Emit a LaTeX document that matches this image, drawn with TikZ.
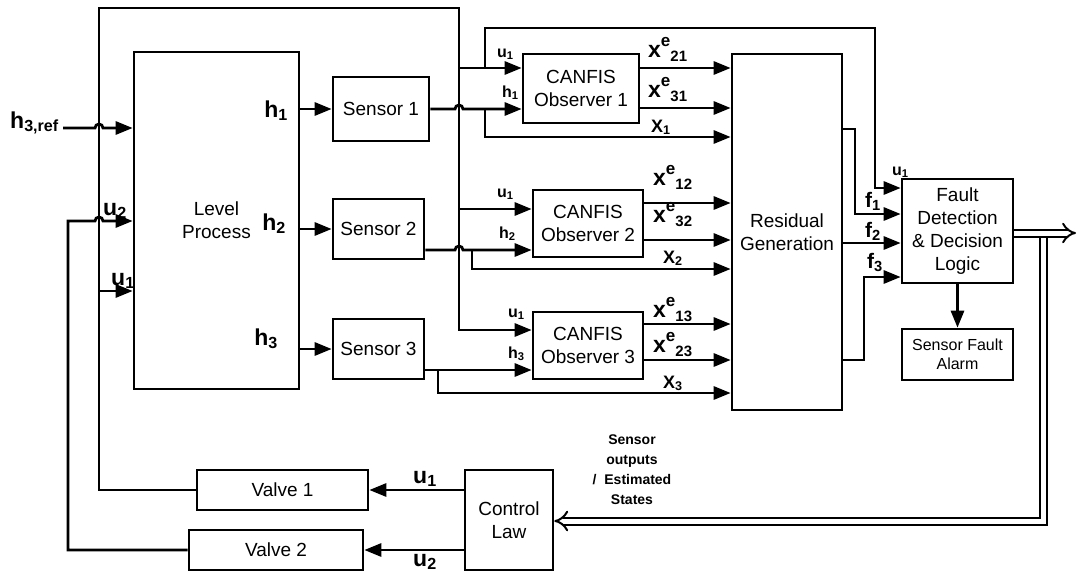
\documentclass[tikz,border=0pt]{standalone}
\usepackage{fontspec}
\setmainfont{Liberation Sans}
\usetikzlibrary{arrows.meta}
\newcommand{\boxtext}{\fontsize{19}{23}\selectfont}
\newcommand{\biglbl}{\fontsize{23}{26}\selectfont\bfseries}
\newcommand{\smalllbl}{\fontsize{16}{18}\selectfont\bfseries}
\newcommand{\xest}[1]{x\raisebox{11pt}{\fontsize{17}{17}\selectfont e}\raisebox{-4pt}{\fontsize{15}{15}\selectfont #1}}

\begin{document}
\begin{tikzpicture}[
    x=1pt, y=-1pt,
    every node/.style={inner sep=0pt},
    block/.style={
        rectangle,
        draw=black,
        line width=2.6pt,
        align=center,
        font=\boxtext
    },
    lbl/.style={font=\biglbl},
    inlbl/.style={font=\smalllbl},
    xlbl/.style={font=\fontsize{18}{20}\selectfont\bfseries},
    flbl/.style={font=\fontsize{21}{23}\selectfont\bfseries},
    arrow/.style={-{Triangle[length=17pt,width=13pt]}, line width=2.8pt},
    dbl/.style={double, double distance=5pt, line width=2pt, -{Implies}}
]
\useasboundingbox (0,0) rectangle (1077,573);

\node[block, minimum width=165pt, minimum height=337pt] (lp) at (216.5,220.5) {Level\\Process};
\node[block, minimum width=96pt, minimum height=64pt] (s1) at (381,109) {Sensor 1};
\node[block, minimum width=91pt, minimum height=60pt] (s2) at (378.5,229) {Sensor 2};
\node[block, minimum width=91pt, minimum height=60pt] (s3) at (378.5,349) {Sensor 3};
\node[block, minimum width=116pt, minimum height=69pt] (o1) at (581,88.5) {CANFIS\\Observer 1};
\node[block, minimum width=110pt, minimum height=67pt] (o2) at (588,223.5) {CANFIS\\Observer 2};
\node[block, minimum width=110pt, minimum height=67pt] (o3) at (588,345.5) {CANFIS\\Observer 3};
\node[block, minimum width=110pt, minimum height=356pt] (rg) at (787,232) {Residual\\Generation};
\node[block, minimum width=111pt, minimum height=104pt] (fd) at (957.5,231) {Fault\\Detection\\\& Decision\\Logic};
\node[block, minimum width=111pt, minimum height=51pt, font=\fontsize{16}{19}\selectfont] (sfa) at (957.5,354.5) {Sensor Fault\\Alarm};
\node[block, minimum width=88pt, minimum height=100pt] (cl) at (509,520) {Control\\Law};
\node[block, minimum width=171pt, minimum height=40pt] (v1) at (282.5,490) {Valve 1};
\node[block, minimum width=174pt, minimum height=40pt] (v2) at (276,550) {Valve 2};

\node[lbl, anchor=base east] (lhref) at (59,128) {h\textsubscript{3,ref}};
\node[lbl, anchor=base west] (lu2) at (103,215) {u\textsubscript{2}};
\node[lbl, anchor=base west] (lu1) at (111,285) {u\textsubscript{1}};
\node[lbl, anchor=base east] (lh1) at (288,117) {h\textsubscript{1}};
\node[lbl, anchor=base east] (lh2) at (286,230) {h\textsubscript{2}};
\node[lbl, anchor=base east] (lh3) at (278,345) {h\textsubscript{3}};
\node[inlbl, anchor=base west] (lo1u) at (497,57) {u\textsubscript{1}};
\node[inlbl, anchor=base west] (lo1h) at (502,97) {h\textsubscript{1}};
\node[inlbl, anchor=base west] (lo2u) at (497,197) {u\textsubscript{1}};
\node[inlbl, anchor=base west] (lo2h) at (499,238) {h\textsubscript{2}};
\node[inlbl, anchor=base west] (lo3u) at (508,317) {u\textsubscript{1}};
\node[inlbl, anchor=base west] (lo3h) at (508,358) {h\textsubscript{3}};
\node[lbl, anchor=base west] (lx21) at (648,57) {\xest{21}};
\node[lbl, anchor=base west] (lx31) at (648,97) {\xest{31}};
\node[xlbl, anchor=base west] (lx1) at (651,132) {X\textsubscript{1}};
\node[lbl, anchor=base west] (lx12) at (653,185) {\xest{12}};
\node[lbl, anchor=base west] (lx32) at (653,222) {\xest{32}};
\node[xlbl, anchor=base west] (lx2) at (663,263) {X\textsubscript{2}};
\node[lbl, anchor=base west] (lx13) at (653,317) {\xest{13}};
\node[lbl, anchor=base west] (lx23) at (653,352) {\xest{23}};
\node[xlbl, anchor=base west] (lx3) at (663,388) {X\textsubscript{3}};
\node[flbl, anchor=base west] (lf1) at (865,207) {f\textsubscript{1}};
\node[flbl, anchor=base west] (lf2) at (865,237) {f\textsubscript{2}};
\node[flbl, anchor=base west] (lf3) at (867,268) {f\textsubscript{3}};
\node[inlbl, anchor=base west] (lfdu) at (892,175) {u\textsubscript{1}};
\node[lbl, anchor=base west] (lcu1) at (413,483) {u\textsubscript{1}};
\node[lbl, anchor=base west] (lcu2) at (413,566) {u\textsubscript{2}};
\node[font=\fontsize{14}{20}\selectfont\bfseries, align=center] (sest) at (632,470) {Sensor\\outputs\\/\ \ Estimated\\States};

\coordinate (ftop) at (99,8);
\coordinate (btop) at (459,8);
\coordinate (ju1) at (99,291);
\coordinate (jo1) at (459,68);
\coordinate (jo2) at (459,209);
\coordinate (jfd) at (485,68);
\coordinate (jx1) at (485,109);
\coordinate (jx2) at (472,250);
\coordinate (jx3) at (438,370);
\coordinate (jd) at (1043,233);

\draw[arrow] (v1.west) -| (ftop) -- (btop) |- (o3.west |- 0,330);
\draw[arrow] (ju1) -- (lp.west |- ju1);
\draw[arrow] (jo1) -- (o1.west |- jo1);
\draw[arrow] (jo2) -- (o2.west |- jo2);
\draw[arrow] (jfd) |- (875,28) |- (fd.west |- 0,188);
\draw[arrow] (v2.west) -| (68,221) -- (95,221) arc[start angle=180, end angle=0, radius=4pt] -- (lp.west |- 0,221);
\draw[arrow] ([xshift=4pt]lhref.base east) -- (95,128) arc[start angle=180, end angle=0, radius=4pt] -- (lp.west |- 0,128);

\draw[arrow] (lp.east |- s1.west) -- (s1.west);
\draw[arrow] (lp.east |- s2.west) -- (s2.west);
\draw[arrow] (lp.east |- s3.west) -- (s3.west);

\draw[arrow] (s1.east) -- (455,109) arc[start angle=180, end angle=0, radius=4pt] -- (o1.west |- s1.east);
\draw[arrow] (jx1) |- (rg.west |- 0,137);
\draw[arrow] (s2.east |- 0,250) -- (455,250) arc[start angle=180, end angle=0, radius=4pt] -- (o2.west |- 0,250);
\draw[arrow] (jx2) |- (rg.west |- 0,269);
\draw[arrow] (s3.east |- 0,370) -- (o3.west |- 0,370);
\draw[arrow] (jx3) |- (rg.west |- 0,393);

\draw[arrow] (o1.east |- 0,68) -- (rg.west |- 0,68);
\draw[arrow] (o1.east |- 0,108) -- (rg.west |- 0,108);
\draw[arrow] (o2.east |- 0,203) -- (rg.west |- 0,203);
\draw[arrow] (o2.east |- 0,240) -- (rg.west |- 0,240);
\draw[arrow] (o3.east |- 0,324) -- (rg.west |- 0,324);
\draw[arrow] (o3.east |- 0,360) -- (rg.west |- 0,360);

\draw[arrow] (rg.east |- 0,129) -| (855,214) -- (fd.west |- 0,214);
\draw[arrow] (rg.east |- 0,243) -- (fd.west |- 0,243);
\draw[arrow] (rg.east |- 0,360) -| (864,277) -- (fd.west |- 0,277);
\draw[arrow] (fd.south) -- (sfa.north);

\draw[dbl] (jd) |- (cl.east |- 0,521);
\draw[dbl] (fd.east |- jd) -- (1076,233);

\draw[arrow] (cl.west |- v1.east) -- (v1.east);
\draw[arrow] (cl.west |- v2.east) -- (v2.east);

\end{tikzpicture}
\end{document}
